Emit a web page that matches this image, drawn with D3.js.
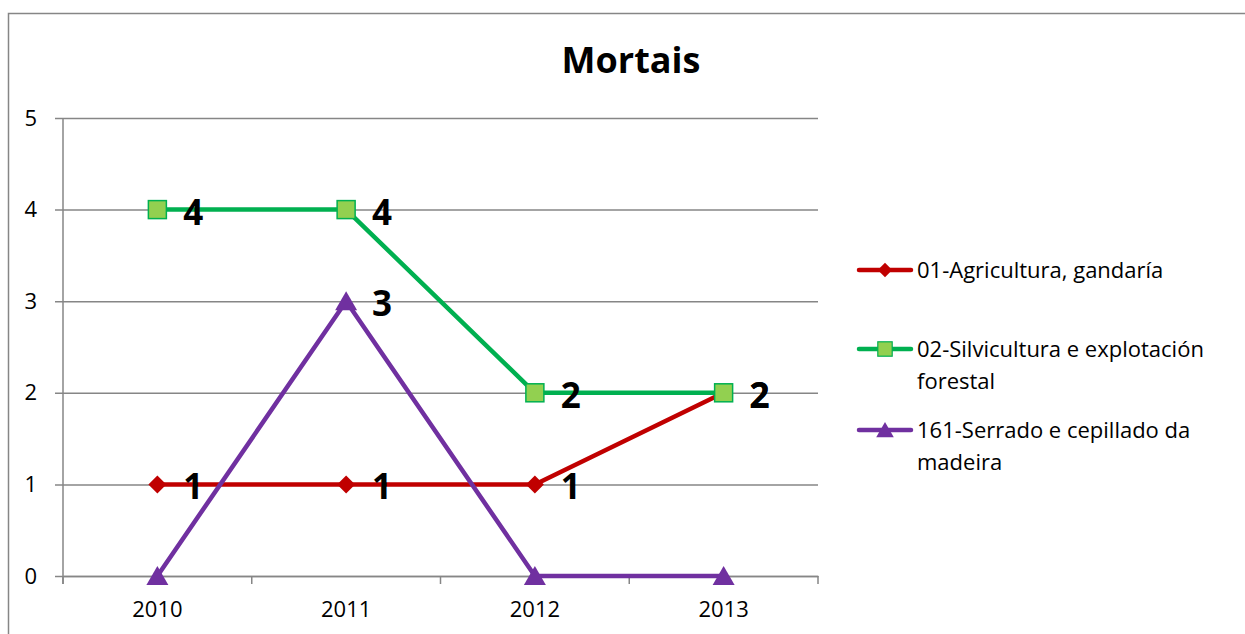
<!DOCTYPE html>
<html>
<head>
<meta charset="utf-8">
<script src="https://cdn.jsdelivr.net/npm/d3@7"></script>
<style>
body { margin: 0; background: #fff; }
svg { font-family: "Open Sans", "Noto Sans", sans-serif; }
</style>
</head>
<body>
<div id="chart"></div>
<script>
// data
var years = ["2010", "2011", "2012", "2013"];
var agricultura = [1, 1, 1, 2];
var silvicultura = [4, 4, 2, 2];
var serrado = [0, 3, 0, 0];
var seriesNames = ["01-Agricultura, gandaría", "02-Silvicultura e explotación forestal", "161-Serrado e cepillado da madeira"];
var yTicks = [0, 1, 2, 3, 4, 5];

var svgWidth = 1245;
var svgHeight = 634;
var margin = {top: 118, right: 427, bottom: 58, left: 63};
var width = svgWidth - margin.left - margin.right;
var height = svgHeight - margin.top - margin.bottom;
var fontFam = '"Open Sans", "Noto Sans", sans-serif';

var svg = d3.select("#chart")
            .append("svg")
            .attr("width", svgWidth)
            .attr("height", svgHeight);

// outer frame
svg.append("rect")
   .attr("x", 8.5).attr("y", 13.5)
   .attr("width", 1260).attr("height", 640)
   .attr("fill", "none")
   .attr("stroke", "#868686")
   .attr("stroke-width", 1.5);

svg.append("text")
   .attr("x", 631).attr("y", 73)
   .attr("text-anchor", "middle")
   .style("font-weight", "bold")
   .style("font-size", "36px")
   .text("Mortais");

var g = svg.append("g")
           .attr("transform", "translate(" + margin.left + "," + margin.top + ")");

var x = d3.scaleBand().domain(years).range([0, width]);
var y = d3.scaleLinear().domain([0, 5]).range([height, 0]);

// grid + y axis
var leftAxis = d3.axisLeft(y).tickValues(yTicks).tickFormat(d3.format("d")).tickSize(-width).tickPadding(26);
var yAxis = g.append("g").call(leftAxis);
yAxis.select(".domain").remove();
yAxis.selectAll(".tick line").attr("stroke", "#868686").attr("stroke-width", 1.5).attr("x1", -8);
yAxis.selectAll(".tick text").style("font-size", "22px").attr("fill", "#000").style("font-family", fontFam);

g.append("line")
 .attr("x1", 0).attr("x2", 0).attr("y1", 0).attr("y2", height + 8)
 .attr("stroke", "#868686").attr("stroke-width", 1.5);

// x axis
var bottomAxis = d3.axisBottom(x).tickSize(0).tickPadding(25);
var xAxis = g.append("g").attr("transform", "translate(0," + height + ")").call(bottomAxis);
xAxis.select(".domain").attr("stroke", "#868686").attr("stroke-width", 1.5);
xAxis.selectAll(".tick text").style("font-size", "22px").attr("fill", "#000").style("font-family", fontFam);
g.append("g").selectAll("line")
 .data(years.concat(["end"]))
 .enter().append("line")
 .attr("x1", (d, i) => i * x.bandwidth()).attr("x2", (d, i) => i * x.bandwidth())
 .attr("y1", height).attr("y2", height + 8)
 .attr("stroke", "#868686").attr("stroke-width", 1.5);

var series = [
  {name: seriesNames[0], values: agricultura, color: "#C00000", marker: "diamond"},
  {name: seriesNames[1], values: silvicultura, color: "#00B050", marker: "square"},
  {name: seriesNames[2], values: serrado, color: "#7030A0", marker: "triangle"}
];

var cx = d => x(d) + x.bandwidth() / 2;

function drawMarker(sel, s) {
  if (s.marker == "diamond") {
    sel.append("path").attr("d", "M0,-9L9,0L0,9L-9,0Z").attr("fill", s.color);
  } else if (s.marker == "square") {
    sel.append("rect").attr("x", -9).attr("y", -9).attr("width", 18).attr("height", 18)
       .attr("fill", "#92D050").attr("stroke", s.color).attr("stroke-width", 1.5);
  } else {
    sel.append("path").attr("d", "M0,-10L11,9L-11,9Z").attr("fill", s.color);
  }
}

var line = d3.line().x((d, i) => cx(years[i])).y(d => y(d));

series.forEach(function(s) {
  g.append("path")
   .datum(s.values)
   .attr("d", line)
   .attr("fill", "none")
   .attr("stroke", s.color)
   .attr("stroke-width", 4.5)
   .attr("stroke-linejoin", "round");
  s.values.forEach(function(v, i) {
    var m = g.append("g").attr("transform", "translate(" + cx(years[i]) + "," + y(v) + ")");
    drawMarker(m, s);
  });
});

// data labels (zeros not shown)
series.forEach(function(s) {
  g.selectAll(null)
   .data(s.values.map((v, i) => ({v: v, yr: years[i]})).filter(d => d.v > 0))
   .enter().append("text")
   .attr("x", d => cx(d.yr) + 36)
   .attr("y", d => y(d.v) + 15)
   .attr("text-anchor", "middle")
   .style("font-weight", "bold")
   .style("font-size", "35px")
   .text(d => d.v);
});

// legend
var legendRows = [
  {lines: ["01-Agricultura, gandaría"], y: 270},
  {lines: ["02-Silvicultura e explotación", "forestal"], y: 349},
  {lines: ["161-Serrado e cepillado da", "madeira"], y: 430}
];
legendRows.forEach(function(r, k) {
  var s = series[k];
  var lg = svg.append("g").attr("transform", "translate(885," + r.y + ")");
  lg.append("line").attr("x1", -26).attr("x2", 26).attr("y1", 0).attr("y2", 0)
    .attr("stroke", s.color).attr("stroke-width", 4.5).attr("stroke-linecap", "round");
  var m = lg.append("g").attr("transform", "scale(0.8)");
  drawMarker(m, s);
  r.lines.forEach(function(t, j) {
    lg.append("text").attr("x", 32).attr("y", 8 + j * 32)
      .style("font-size", "22px").text(t);
  });
});
</script>
</body>
</html>
